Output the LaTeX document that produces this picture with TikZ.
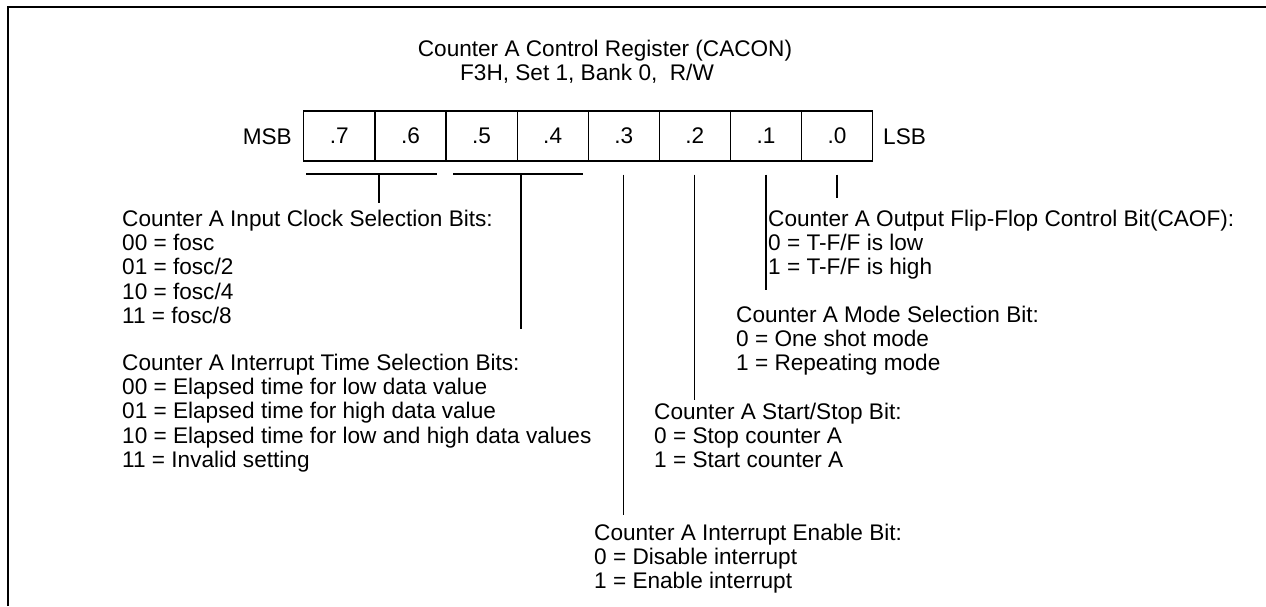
\documentclass[tikz,border=0pt]{standalone}
\usepackage{fontspec}
\setmainfont{Liberation Sans}
\tikzset{
  txt/.style={anchor=base west, inner sep=0pt, font=\fontsize{22.6}{25}\selectfont},
  cell/.style={draw, line width=1.2pt, minimum width=71.1pt, minimum height=50pt, inner sep=0pt, font=\fontsize{22.6}{25}\selectfont},
  lead/.style={line width=1.2pt},
  frame/.style={line width=2.2pt},
}
\begin{document}
\begin{tikzpicture}[x=1pt,y=-1pt]
\useasboundingbox (0,0) rectangle (1266,606);
% frame
\coordinate (fbl) at (8,606);
\coordinate (ftl) at (8,7);
\coordinate (ftr) at (1266,7);
\draw[frame] (fbl) -- (ftl) -- (ftr);
% title
\node[txt, anchor=base] (title1) at (605,56) {Counter A Control Register (CACON)};
\node[txt, anchor=base] (title2) at (587,80) {F3H, Set 1, Bank 0,\ \ R/W};
% register
\foreach \b [count=\i from 0] in {7,6,5,4,3,2,1,0}
  \node[cell] (b\b) at (339.35+71.1*\i,136) {.\b};
\node[txt, anchor=base east] (msb) at (292,144) {MSB};
\node[txt] (lsb) at (883,144) {LSB};
% text blocks
\foreach \t [count=\i from 0] in {{Counter A Input Clock Selection Bits:},{00 = fosc},{01 = fosc/2},{10 = fosc/4},{11 = fosc/8}}
  \node[txt] (clk\i) at (122,226+24.4*\i) {\t};
\foreach \t [count=\i from 0] in {{Counter A Interrupt Time Selection Bits:},{00 = Elapsed time for low data value},{01 = Elapsed time for high data value},{10 = Elapsed time for low and high data values},{11 = Invalid setting}}
  \node[txt] (itm\i) at (122,370+24.4*\i) {\t};
\foreach \t [count=\i from 0] in {{Counter A Output Flip-Flop Control Bit(CAOF):},{0 = T-F/F is low},{1 = T-F/F is high}}
  \node[txt] (caof\i) at (768,226+24.4*\i) {\t};
\foreach \t [count=\i from 0] in {{Counter A Mode Selection Bit:},{0 = One shot mode},{1 = Repeating mode}}
  \node[txt] (mode\i) at (736,322+24.4*\i) {\t};
\foreach \t [count=\i from 0] in {{Counter A Start/Stop Bit:},{0 = Stop counter A},{1 = Start counter A}}
  \node[txt] (ss\i) at (654,419+24.4*\i) {\t};
\foreach \t [count=\i from 0] in {{Counter A Interrupt Enable Bit:},{0 = Disable interrupt},{1 = Enable interrupt}}
  \node[txt] (ie\i) at (594,540+24.4*\i) {\t};
% brackets
\coordinate (k1l) at (306,174);
\coordinate (k1r) at (436.5,174);
\coordinate (k1m) at (379,174);
\coordinate (k1e) at (379,203);
\draw[lead] (k1l) -- (k1r);
\draw[lead] (k1m) -- (k1e);
\coordinate (k2l) at (453,174);
\coordinate (k2r) at (582.7,174);
\coordinate (k2m) at (521,174);
\coordinate (k2e) at (521,329);
\draw[lead] (k2l) -- (k2r);
\draw[lead] (k2m) -- (k2e);
% single-bit leads
\coordinate (e3) at (b3.south |- 0,515);
\coordinate (e2) at (b2.south |- 0,400);
\coordinate (e1) at (b1.south |- 0,290);
\coordinate (e0) at (b0.south |- 0,198);
\foreach \b in {3,2,1,0}
  \draw[lead] ([yshift=-13pt]b\b.south) -- (e\b);
\end{tikzpicture}
\end{document}
